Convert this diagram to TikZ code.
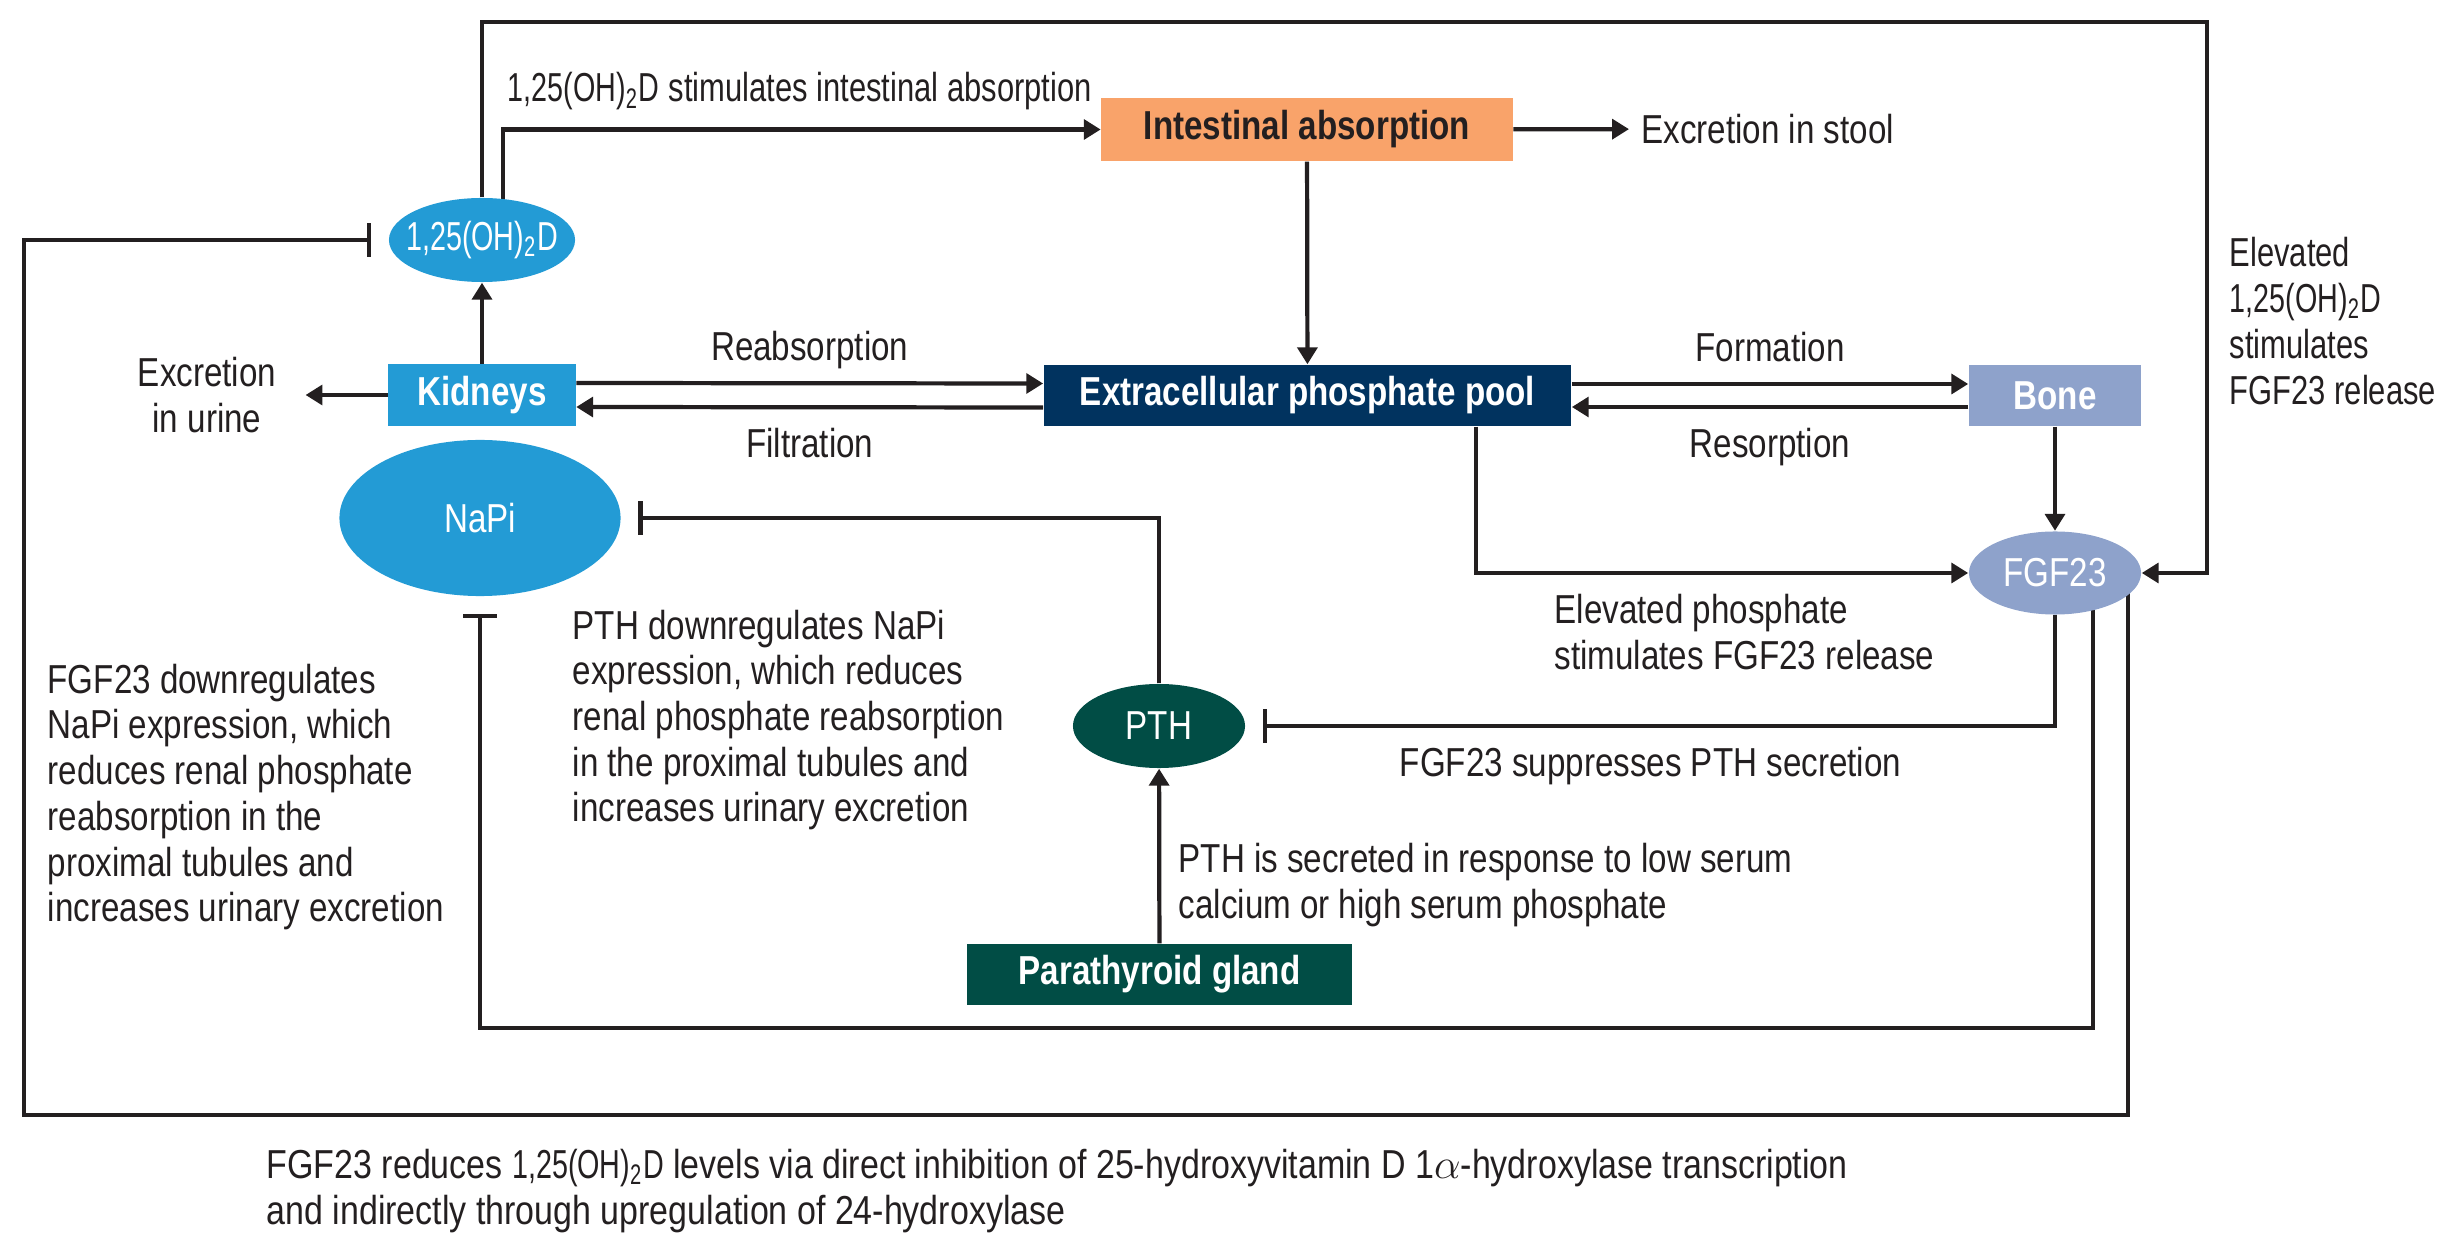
\documentclass[tikz,border=0pt]{standalone}
\usepackage{fontspec}
\setmainfont{Liberation Sans}[FakeStretch=0.82]
\newfontfamily\dfont{Liberation Sans}[FakeStretch=0.71]
\newfontfamily\nfont{Liberation Sans}[FakeStretch=0.765]
\newfontfamily\cfont{Liberation Sans}[FakeStretch=0.84]
\usepackage{tikz}
\usetikzlibrary{arrows.meta,calc,backgrounds,shapes.geometric}
\definecolor{kblue}{HTML}{239BD5}
\definecolor{iorange}{HTML}{F9A36A}
\definecolor{pnavy}{HTML}{01335F}
\definecolor{blav}{HTML}{8EA2CB}
\definecolor{pgreen}{HTML}{014D45}
\definecolor{ink}{HTML}{231F20}
\newcommand{\dhd}{{\dfont 1,25(OH)\textsubscript{2}D}}

\begin{document}
\begin{tikzpicture}[x=0.01cm,y=-0.01cm,>={Triangle[length=4.8pt,width=5.6pt]},
  every node/.style={font=\fontsize{11.5}{13}\selectfont,text=ink},
  bx/.style={rectangle,inner sep=0pt,minimum height=0.61cm,font=\fontsize{11.5}{13}\selectfont\bfseries,text=white},
  el/.style={ellipse,inner sep=0pt,text=white},
  a/.style={->,draw=ink,line width=1.2pt},
  t/.style={-{Bar[width=9.5pt]},draw=ink,line width=1.2pt,shorten >=0.17cm},
  lb/.style={text height=8.4pt,text depth=2.4pt},
  txt/.style={align=left,anchor=west,inner sep=0pt}]
\path[use as bounding box] (0,0) rectangle (2447,1255);
\node[el,fill=kblue,minimum width=1.86cm,minimum height=0.84cm,inner xsep=-3pt] (vd) at (482,240) {\dhd};
\node[bx,fill=kblue,minimum width=1.87cm] (kid) at (482,395) {Kidneys};
\node[el,fill=kblue,minimum width=2.81cm,minimum height=1.56cm] (napi) at (480,518) {NaPi};
\node[bx,fill=iorange,text=ink,minimum width=4.11cm,minimum height=0.63cm] (int) at (1307,129.5) {Intestinal absorption};
\node[bx,fill=pnavy,minimum width=5.27cm] (pool) at (1307.5,395.5) {Extracellular phosphate pool};
\node[bx,fill=blav,minimum width=1.72cm] (bone) at (2055,395.5) {Bone};
\node[el,fill=blav,minimum width=1.72cm,minimum height=0.83cm] (fgf) at (2055,573) {FGF23};
\node[el,fill=pgreen,minimum width=1.72cm,minimum height=0.84cm] (pth) at (1159,726) {PTH};
\node[bx,fill=pgreen,minimum width=3.85cm] (pg) at (1159.5,974.5) {Parathyroid gland};
\node[anchor=west] (stool) at (1629,129) {Excretion in stool};
\node[align=center] (urine) at (207,395) {Excretion\\in urine};
\node[anchor=base west,inner sep=0pt] (stim) at (507,102) {\dhd{} {\nfont stimulates intestinal absorption}};
\node[txt] (elp) at (1554,632) {Elevated phosphate\\stimulates FGF23 release};
\node[txt,font=\fontsize{11.5}{13}\selectfont\nfont] (elv) at (2229,321) {Elevated\\\dhd\\stimulates\\FGF23 release};
\node[txt] (pdn) at (572,720) {PTH downregulates NaPi\\expression, which reduces\\renal phosphate reabsorption\\in the proximal tubules and\\increases urinary excretion};
\node[txt] (fdn) at (47,797) {FGF23 downregulates\\NaPi expression, which\\reduces renal phosphate\\reabsorption in the\\proximal tubules and\\increases urinary excretion};
\node[txt] (psec) at (1178,885) {PTH is secreted in response to low serum\\calcium or high serum phosphate};
\node[txt,font=\fontsize{11.5}{13}\selectfont\cfont] (cap) at (266,1191) {FGF23 reduces \dhd{} levels via direct inhibition of 25-hydroxyvitamin D 1$\alpha$-hydroxylase transcription\\and indirectly through upregulation of 24-hydroxylase};
\begin{scope}[on background layer]
\draw[a] (vd.north) |- (2207,22) |- (fgf);
\draw[a] ($(vd.center)+(21,0)$) |- (int);
\draw[a] (int) -- (stool);
\draw[a] (int) -- (pool);
\draw[a] (kid) -- (vd);
\draw[a,shorten >=0.17cm] (kid) -- (urine);
\draw[a] ($(kid.east)+(0,-12)$) -- node[above,lb]{Reabsorption} ($(pool.west)+(0,-12)$);
\draw[a] ($(pool.west)+(0,12)$) -- node[below=2pt,lb]{Filtration} ($(kid.east)+(0,12)$);
\draw[a] ($(pool.east)+(0,-11.5)$) -- node[above,lb]{Formation} ($(bone.west)+(0,-11.5)$);
\draw[a] ($(bone.west)+(0,11.5)$) -- node[below=2pt,lb]{Resorption} ($(pool.east)+(0,11.5)$);
\draw[a] (bone) -- (fgf);
\draw[a] ($(pool.south)+(168.5,0)$) |- (fgf);
\draw[t] (fgf) |- node[pos=0.75,below=2pt,lb]{FGF23 suppresses PTH secretion} (pth);
\draw[t] (pth) |- (napi);
\draw[a] (pg) -- (pth);
\draw[t] ($(fgf.center)+(38,0)$) -- ++(0,455) -| (napi);
\draw[t] ($(fgf.center)+(73,0)$) -- ++(0,542) -| (24,240) -- (vd);
\end{scope}
\end{tikzpicture}
\end{document}
